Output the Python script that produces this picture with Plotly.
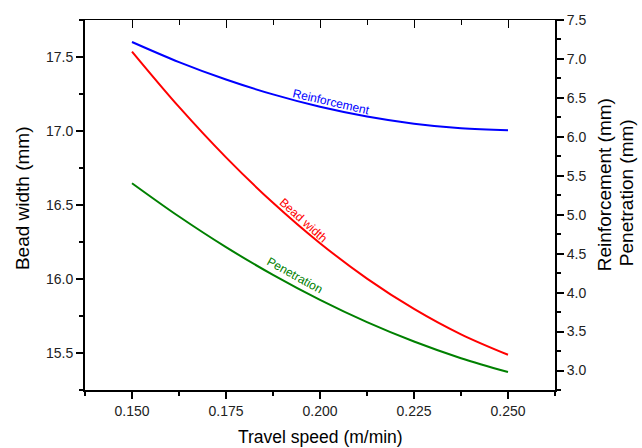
import plotly.graph_objects as go

# Travel speed (m/min) and the three bead-geometry responses
speed = [0.150, 0.1625, 0.175, 0.1875, 0.200, 0.2125, 0.225, 0.2375, 0.250]
bead_width = [17.537, 17.163, 16.822, 16.515, 16.242, 16.003, 15.798, 15.626, 15.488]
reinforcement = [7.218, 6.960, 6.736, 6.545, 6.386, 6.261, 6.169, 6.110, 6.084]
penetration = [5.405, 4.977, 4.584, 4.228, 3.907, 3.621, 3.372, 3.158, 2.980]

x_ticks = [0.150, 0.175, 0.200, 0.225, 0.250]
x_tick_text = ["0.150", "0.175", "0.200", "0.225", "0.250"]
left_ticks = [15.5, 16.0, 16.5, 17.0, 17.5]
right_ticks = [3.0, 3.5, 4.0, 4.5, 5.0, 5.5, 6.0, 6.5, 7.0, 7.5]

FONT = "Liberation Sans, Arial, sans-serif"
W, H = 642, 448
ML, MR, MT, MB = 85, 87, 16, 58

fig = go.Figure()
fig.add_trace(go.Scatter(x=speed, y=bead_width, mode="lines", line=dict(color="#ff0000", width=2, shape="spline"),
                         xaxis="x", yaxis="y", showlegend=False))
fig.add_trace(go.Scatter(x=speed, y=reinforcement, mode="lines", line=dict(color="#0000ff", width=2, shape="spline"),
                         xaxis="x", yaxis="y2", showlegend=False))
fig.add_trace(go.Scatter(x=speed, y=penetration, mode="lines", line=dict(color="#008000", width=2, shape="spline"),
                         xaxis="x", yaxis="y2", showlegend=False))
# carrier trace so the top frame axis is drawn
fig.add_trace(go.Scatter(x=speed, y=bead_width, mode="markers", marker=dict(opacity=0),
                         xaxis="x2", yaxis="y", showlegend=False, hoverinfo="skip"))

tickfont = dict(family=FONT, size=14, color="#222")
xr = [0.1375, 0.2625]

fig.update_layout(
    width=W, height=H,
    margin=dict(l=ML, r=MR, t=MT, b=MB),
    paper_bgcolor="white", plot_bgcolor="white",
    xaxis=dict(range=xr, tickvals=x_ticks, ticktext=x_tick_text, ticks="outside", ticklen=7, tickwidth=2,
               tickcolor="black", showline=True, linewidth=2, linecolor="black", showgrid=False, zeroline=False,
               tickfont=tickfont, minor=dict(dtick=0.0125, tick0=0.1375, ticks="outside", ticklen=4, tickwidth=2,
                                             tickcolor="black", showgrid=False)),
    xaxis2=dict(range=xr, overlaying="x", side="top", tickvals=x_ticks, ticks="inside", ticklen=8, tickwidth=1,
                tickcolor="black", showticklabels=False, showline=True, linewidth=1, linecolor="black",
                showgrid=False, zeroline=False,
                minor=dict(dtick=0.0125, tick0=0.1375, ticks="inside", ticklen=5, tickwidth=1, tickcolor="black",
                           showgrid=False)),
    yaxis=dict(range=[15.25, 17.75], tickvals=left_ticks, ticktext=[f"{v:.1f}" for v in left_ticks],
               ticks="outside", ticklen=7, tickwidth=2, tickcolor="black", showline=True, linewidth=2,
               linecolor="black", showgrid=False, zeroline=False, tickfont=tickfont,
               minor=dict(dtick=0.25, tick0=15.25, ticks="outside", ticklen=4, tickwidth=2, tickcolor="black",
                          showgrid=False)),
    yaxis2=dict(range=[2.75, 7.5], overlaying="y", side="right", tickvals=right_ticks,
                ticktext=[f"{v:.1f}" for v in right_ticks], ticks="outside", ticklen=7, tickwidth=2,
                tickcolor="black", showline=True, linewidth=2, linecolor="black", showgrid=False, zeroline=False,
                tickfont=tickfont,
                minor=dict(dtick=0.25, tick0=2.75, ticks="outside", ticklen=4, tickwidth=2, tickcolor="black",
                           showgrid=False)),
)

pw, ph = W - ML - MR, H - MT - MB


def px_x(p):
    return (p - ML) / pw


def px_y(p):
    return (H - MB - p) / ph


x_title_font = dict(family=FONT, size=17.5, color="black")
y_title_font = dict(family=FONT, size=19, color="black")
fig.add_annotation(text="Travel speed (m/min)", xref="paper", yref="paper", x=px_x(320), y=px_y(438),
                   showarrow=False, font=x_title_font, xanchor="center", yanchor="middle")
fig.add_annotation(text="Bead width (mm)", xref="paper", yref="paper", x=px_x(22), y=px_y(196),
                   showarrow=False, font=y_title_font, textangle=-90, xanchor="center", yanchor="middle")
fig.add_annotation(text="Reinforcement (mm)", xref="paper", yref="paper", x=px_x(604), y=px_y(183),
                   showarrow=False, font=y_title_font, textangle=-90, xanchor="center", yanchor="middle")
fig.add_annotation(text="Penetration (mm)", xref="paper", yref="paper", x=px_x(626), y=px_y(191),
                   showarrow=False, font=y_title_font, textangle=-90, xanchor="center", yanchor="middle")

# in-plot curve labels
lab = dict(family=FONT, size=12)
fig.add_annotation(text="Reinforcement", x=0.2031, y=6.45, xref="x", yref="y2", showarrow=False,
                   textangle=13, font=dict(lab, color="#0000ff"))
fig.add_annotation(text="Bead width", x=0.1955, y=16.40, xref="x", yref="y", showarrow=False,
                   textangle=42, font=dict(lab, color="#ff0000"))
fig.add_annotation(text="Penetration", x=0.1931, y=4.22, xref="x", yref="y2", showarrow=False,
                   textangle=29, font=dict(lab, color="#008000"))

fig.write_html("out.html")
